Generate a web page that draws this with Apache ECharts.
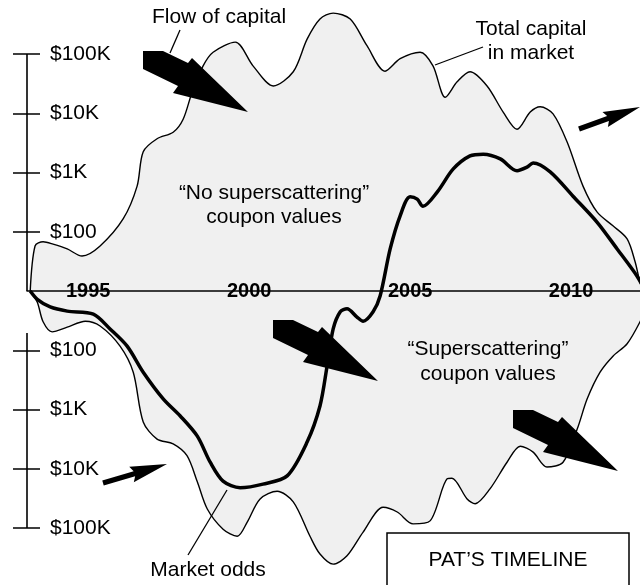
<!DOCTYPE html>
<html>
<head>
<meta charset="utf-8">
<script src="https://cdn.jsdelivr.net/npm/echarts@6/dist/echarts.min.js"></script>
<style>
  html, body { margin: 0; padding: 0; background: #fff; }
  #chart { width: 640px; height: 585px; }
</style>
</head>
<body>
<div id="chart"></div>
<script>
// x = year, y = decades of coupon value away from the time axis
// (up: "no superscattering", down: "superscattering")
const yearTicks = [1995, 2000, 2005, 2010];
const decadeTicks = [-4, -3, -2, -1, 1, 2, 3, 4];
const decadeLabels = ['$100K', '$10K', '$1K', '$100', '$100', '$1K', '$10K', '$100K'];

// total capital in market, upper edge
const capTopYears = [1993.2, 1993.35, 1993.6, 1993.91, 1994.35, 1994.81, 1995.37, 1996.09, 1996.52, 1996.71,
  1997.14, 1997.64, 1997.95, 1998.23, 1998.57, 1998.88, 1999.57, 2000.12, 2000.75, 2001.37,
  2001.8, 2002.2, 2002.61, 2003.14, 2003.66, 2004.22, 2004.69, 2005.31, 2005.71, 2006.09,
  2006.46, 2006.86, 2007.39, 2007.89, 2008.32, 2008.73, 2009.04, 2009.44, 2009.88, 2010.37,
  2010.81, 2011.3, 2011.74, 2011.99, 2012.14, 2012.27];
const capTopValues = [0, 0.76, 0.83, 0.79, 0.71, 0.59, 0.76, 1.22, 1.77, 2.35,
  2.57, 2.68, 2.9, 3.36, 3.8, 4.03, 4.2, 3.8, 3.46, 3.7,
  4.25, 4.59, 4.69, 4.59, 4.14, 3.71, 3.92, 4.03, 3.8, 3.27,
  3.53, 3.7, 3.46, 3.02, 2.73, 3.02, 3.11, 2.99, 2.51, 1.77,
  1.33, 1.1, 0.88, 0.49, 0.15, 0];

// total capital in market, lower edge
const capBottomYears = [1993.2, 1993.42, 1993.6, 1993.88, 1994.35, 1994.91, 1995.37, 1995.99, 1996.4, 1996.71,
  1997.14, 1997.64, 1998.07, 1998.39, 1998.7, 1999.19, 1999.63, 1999.94, 2000.34, 2000.87,
  2001.37, 2001.89, 2002.2, 2002.61, 2003.04, 2003.54, 2004.16, 2004.6, 2005.09, 2005.62,
  2006.15, 2006.3, 2006.77, 2007.02, 2007.48, 2008.01, 2008.42, 2008.82, 2009.25, 2009.75,
  2010.19, 2010.5, 2010.9, 2011.3, 2011.74, 2012.14, 2012.45];
const capBottomValues = [0, -0.19, -0.52, -0.69, -0.61, -0.51, -0.59, -0.93, -1.37, -2.21,
  -2.5, -2.58, -2.78, -3.22, -3.68, -4.02, -4.14, -3.9, -3.51, -3.38,
  -3.56, -4.14, -4.44, -4.61, -4.47, -4.07, -3.65, -3.73, -3.93, -3.88,
  -3.17, -3.16, -3.51, -3.59, -3.34, -2.89, -2.62, -2.72, -2.97, -2.89,
  -2.33, -1.82, -1.37, -1.1, -0.89, -0.52, -0.14];

// market odds
const oddsYears = [1993.2, 1993.42, 1993.82, 1994.35, 1995.16, 1995.68, 1996.21, 1996.71, 1997.33, 1997.86,
  1998.39, 1998.79, 1999.19, 1999.72, 2000.43, 2001.18, 2001.8, 2002.2, 2002.42, 2002.61,
  2002.83, 2003.04, 2003.35, 2003.54, 2003.85, 2004.07, 2004.38, 2004.69, 2005.0, 2005.22,
  2005.4, 2005.84, 2006.34, 2006.86, 2007.27, 2007.8, 2008.32, 2008.63, 2008.82, 2009.35,
  2010.06, 2010.81, 2011.43, 2012.05, 2012.3];
const oddsValues = [0, -0.14, -0.27, -0.34, -0.39, -0.64, -0.93, -1.37, -1.82, -2.11,
  -2.45, -2.89, -3.21, -3.32, -3.26, -3.12, -2.55, -1.94, -1.27, -0.64,
  -0.35, -0.3, -0.44, -0.51, -0.35, -0.08, 0.71, 1.27, 1.59, 1.55,
  1.43, 1.67, 2.06, 2.28, 2.31, 2.23, 2.03, 2.09, 2.16, 2.01,
  1.6, 1.16, 0.71, 0.25, 0];

const X_MIN = 1993.1;
const X_MAX = 2012.14;
const FONT = '"Liberation Sans", Arial, Helvetica, sans-serif';
const INK = '#000';

const pairs = (xs, ys) => xs.map((x, i) => [x, ys[i]]);
const tickText = {};
decadeTicks.forEach((v, i) => { tickText[v] = decadeLabels[i]; });

const chart = echarts.init(document.getElementById('chart'));

chart.setOption({
  animation: false,
  backgroundColor: '#fff',
  grid: { left: 27, right: 0, top: 54, bottom: 57 },
  xAxis: {
    type: 'value',
    min: X_MIN,
    max: X_MAX,
    z: 5,
    position: 'bottom',
    offset: -237, // time axis sits at the middle of the value range
    axisLine: { onZero: false, lineStyle: { color: INK, width: 1.5 } },
    axisTick: { show: false },
    splitLine: { show: false },
    axisLabel: {
      customValues: yearTicks,
      formatter: (v) => String(v),
      margin: 0,
      verticalAlign: 'middle',
      color: INK,
      fontFamily: FONT,
      fontWeight: 'bold',
      fontSize: 20
    }
  },
  yAxis: [
    {
      type: 'value', min: -4, max: 4, z: 5, position: 'left',
      axisLine: { show: false },
      splitLine: { show: false },
      axisTick: { show: true, customValues: decadeTicks, length: 14, lineStyle: { color: INK, width: 1.5 } },
      axisLabel: {
        customValues: decadeTicks,
        inside: true,
        margin: 23,
        formatter: (v) => tickText[v] || '',
        color: INK,
        fontFamily: FONT,
        fontSize: 21
      }
    },
    {
      type: 'value', min: -4, max: 4, z: 5, position: 'left',
      axisLine: { show: false },
      splitLine: { show: false },
      axisTick: { show: true, inside: true, customValues: decadeTicks, length: 13, lineStyle: { color: INK, width: 1.5 } },
      axisLabel: { show: false }
    }
  ],
  series: [
    {
      name: 'Total capital in market',
      type: 'line',
      data: pairs(capTopYears, capTopValues),
      smooth: 0.3,
      showSymbol: false,
      clip: false,
      silent: true,
      z: 1,
      lineStyle: { color: INK, width: 1.4 },
      areaStyle: { color: '#f0f0f0', opacity: 1 }
    },
    {
      name: 'Total capital in market (lower)',
      type: 'line',
      data: pairs(capBottomYears, capBottomValues),
      smooth: 0.3,
      showSymbol: false,
      clip: false,
      silent: true,
      z: 1,
      lineStyle: { color: INK, width: 1.4 },
      areaStyle: { color: '#f0f0f0', opacity: 1 }
    },
    {
      name: 'Market odds',
      type: 'line',
      data: pairs(oddsYears, oddsValues),
      smooth: 0.3,
      showSymbol: false,
      clip: false,
      silent: true,
      z: 3,
      lineStyle: { color: INK, width: 3.5 }
    }
  ]
});

// annotations: axis spine (with its gap under the time axis), notes, arrows, title box
const sx = chart.convertToPixel({ xAxisIndex: 0 }, X_MIN);
const sy = (v) => chart.convertToPixel({ yAxisIndex: 0 }, v);

const boltShape = [[0, 0], [20, 0], [45, 12], [49, 7], [105, 61], [30, 42], [35, 35], [0, 18]];
const bolt = (ox, oy) => ({
  type: 'polygon', z: 100, silent: true,
  shape: { points: boltShape.map((p) => [ox + p[0], oy + p[1]]) },
  style: { fill: INK }
});
const smallArrow = (x1, y1, x2, y2) => {
  const dx = x2 - x1, dy = y2 - y1;
  const len = Math.sqrt(dx * dx + dy * dy);
  const ux = dx / len, uy = dy / len, nx = -uy, ny = ux;
  const local = [[0, -2.6], [len - 34, -2.6], [len - 37, -8], [len, 0], [len - 37, 8], [len - 34, 2.6], [0, 2.6]];
  return {
    type: 'polygon', z: 100, silent: true,
    shape: { points: local.map((p) => [x1 + ux * p[0] + nx * p[1], y1 + uy * p[0] + ny * p[1]]) },
    style: { fill: INK }
  };
};
const note = (text, x, y, lh) => ({
  type: 'text', z: 100, silent: true, x: x, y: y,
  style: {
    text: text, fill: INK, font: '21px ' + FONT, lineHeight: lh || 24,
    textAlign: 'center', textVerticalAlign: 'middle', align: 'center', verticalAlign: 'middle'
  }
});
const rule = (x1, y1, x2, y2, w) => ({
  type: 'line', z: 100, silent: true,
  shape: { x1: x1, y1: y1, x2: x2, y2: y2 },
  style: { stroke: INK, lineWidth: w || 1.3 }
});

chart.setOption({
  graphic: [
    rule(sx, sy(4), sx, sy(0), 1.6),
    rule(sx, sy(-0.71), sx, sy(-4), 1.6),

    note('Flow of capital', 219, 17),
    rule(180, 30, 170, 53),
    note('Total capital\nin market', 531, 41),
    rule(483, 47, 435, 65),
    note('\u201CNo superscattering\u201D\ncoupon values', 274, 205),
    note('\u201CSuperscattering\u201D\ncoupon values', 488, 362, 25),
    note('Market odds', 208, 570),
    rule(227, 490, 188, 555),

    bolt(143, 51),
    bolt(273, 320),
    bolt(513, 410),
    smallArrow(579, 129, 640, 107),
    smallArrow(103, 483, 167, 464),

    {
      type: 'rect', z: 100, silent: true,
      shape: { x: 387, y: 533, width: 242, height: 70 },
      style: { fill: '#fff', stroke: INK, lineWidth: 1.5 }
    },
    note('PAT\u2019S TIMELINE', 508, 560)
  ]
});
</script>
</body>
</html>
